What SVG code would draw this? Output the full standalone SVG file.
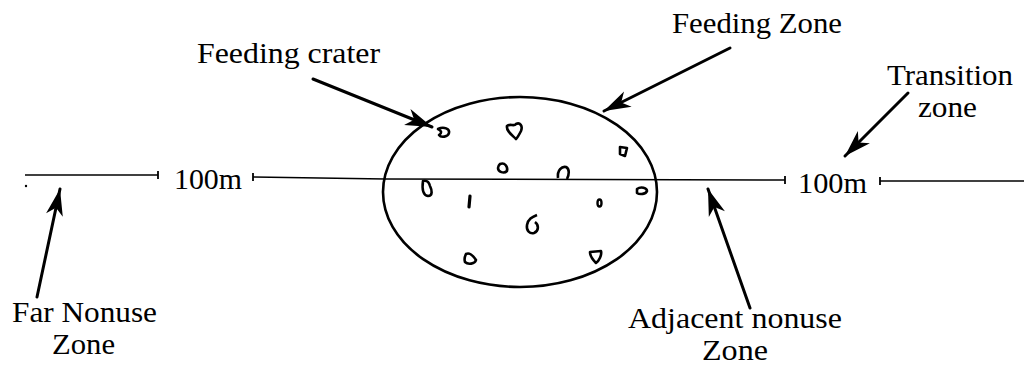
<svg xmlns="http://www.w3.org/2000/svg" width="1024" height="370" viewBox="0 0 1024 370">
  <style>
    .lbl { font-family: "Liberation Serif", "Times New Roman", serif; font-size: 30px; fill: #000; }
    .axis { fill: none; stroke: #000; stroke-width: 1.6; }
    .tick { fill: none; stroke: #000; stroke-width: 1.8; }
    .ptr { fill: none; stroke: #000; stroke-width: 3; stroke-linecap: round; }
    .crater { fill: none; stroke: #000; stroke-width: 2.6; stroke-linejoin: round; }
  </style>
  <defs>
    <marker id="head" markerUnits="userSpaceOnUse" markerWidth="32" markerHeight="22" viewBox="-28 -10 30 20" refX="0" refY="0" orient="auto">
      <path d="M0,0 L-25,-8 L-18,0 L-25,8 Z" fill="#000"/>
    </marker>
  </defs>
  <rect width="1024" height="370" fill="#fff"/>

  <!-- distance axis with the two 100 m marks -->
  <g id="axis">
    <circle cx="26" cy="186" r="1.2" fill="#000"/>
    <line class="axis" x1="25" y1="175" x2="158" y2="175"/>
    <line class="tick" x1="158" y1="171" x2="158" y2="179"/>
    <line class="tick" x1="253" y1="173" x2="253" y2="181"/>
    <polyline class="axis" points="253,177 385,179 785,180"/>
    <line class="tick" x1="785" y1="176" x2="785" y2="184"/>
    <line class="tick" x1="880" y1="177" x2="880" y2="185"/>
    <line class="axis" x1="880" y1="181" x2="1024" y2="181"/>
    <text class="lbl" x="174" y="189" textLength="68" lengthAdjust="spacingAndGlyphs">100m</text>
    <text class="lbl" x="798" y="193" textLength="69" lengthAdjust="spacingAndGlyphs">100m</text>
  </g>

  <!-- feeding zone with its craters -->
  <g id="feeding-zone">
    <ellipse cx="520" cy="192" rx="137" ry="95" fill="none" stroke="#000" stroke-width="2.6"/>
    <g id="craters">
      <path class="crater" d="M438,129 C444,126 450,129 449,133 C448,137 441,138 439,135 C442,133 442,131 438,129 Z"/>
      <path class="crater" d="M507,126 C510,123 514,127 516,124 C520,122 523,126 521,131 C519,135 517,138 516,139 C512,135 506,131 507,126 Z"/>
      <path class="crater" d="M620,147 L627,148 L625,156 L620,154 Z"/>
      <path class="crater" d="M500,164 C505,162 508,167 507,171 C504,174 498,172 498,168 C498,166 499,165 500,164 Z"/>
      <path class="crater" d="M558,178 C557,170 562,166 566,167 C570,169 569,175 567,179"/>
      <path class="crater" d="M423,181 C422,188 422,195 428,196 C433,196 432,190 430,186 C429,182 427,180 423,181 Z"/>
      <path d="M470,196 L469,207" stroke="#000" stroke-width="3.2" stroke-linecap="round" fill="none"/>
      <path class="crater" d="M637,189 C641,186 647,188 647,191 C646,194 640,195 637,193 Z"/>
      <ellipse cx="599.5" cy="203" rx="2" ry="3.5" fill="none" stroke="#000" stroke-width="2.4"/>
      <path class="crater" d="M537,215 C532,217 528,219 527,225 C526,231 530,234 534,233 C539,231 539,225 535,222"/>
      <path class="crater" d="M466,254 C470,252 474,257 476,260 C475,264 468,265 465,262 C464,259 465,256 466,254 Z"/>
      <path class="crater" d="M590,252 L601,251 C602,255 599,261 596,263 C593,260 590,256 590,252 Z"/>
    </g>
  </g>

  <!-- pointers from labels -->
  <g id="connectors">
    <line class="ptr" x1="313" y1="79" x2="432" y2="127" marker-end="url(#head)"/>
    <line class="ptr" x1="730" y1="48" x2="604" y2="111" marker-end="url(#head)"/>
    <line class="ptr" x1="908" y1="93" x2="845" y2="156" marker-end="url(#head)"/>
    <line class="ptr" x1="37" y1="297" x2="60" y2="189" marker-end="url(#head)"/>
    <line class="ptr" x1="750" y1="308" x2="708" y2="189" marker-end="url(#head)"/>
  </g>

  <g id="label-feeding-crater">
    <text class="lbl" x="197" y="63" textLength="183" lengthAdjust="spacingAndGlyphs">Feeding crater</text>
  </g>
  <g id="label-feeding-zone">
    <text class="lbl" x="672" y="33" textLength="170" lengthAdjust="spacingAndGlyphs">Feeding Zone</text>
  </g>
  <g id="label-transition">
    <text class="lbl" x="887" y="85" textLength="126" lengthAdjust="spacingAndGlyphs">Transition</text>
    <text class="lbl" x="918" y="117" textLength="59" lengthAdjust="spacingAndGlyphs">zone</text>
  </g>
  <g id="label-far-nonuse">
    <text class="lbl" x="12" y="322" textLength="145" lengthAdjust="spacingAndGlyphs">Far Nonuse</text>
    <text class="lbl" x="52" y="354" textLength="63" lengthAdjust="spacingAndGlyphs">Zone</text>
  </g>
  <g id="label-adjacent-nonuse">
    <text class="lbl" x="628" y="328" textLength="214" lengthAdjust="spacingAndGlyphs">Adjacent nonuse</text>
    <text class="lbl" x="702" y="360" textLength="66" lengthAdjust="spacingAndGlyphs">Zone</text>
  </g>
</svg>
